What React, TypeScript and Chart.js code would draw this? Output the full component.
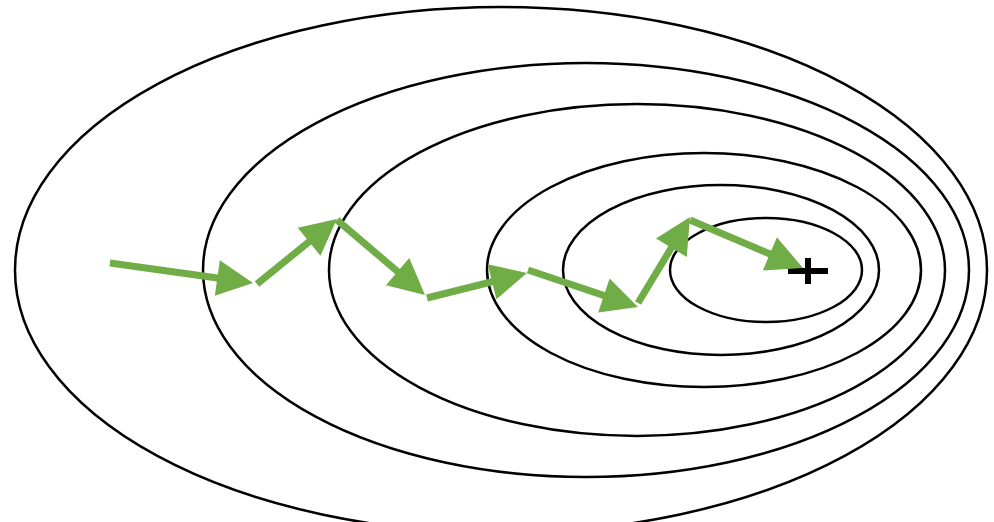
import React, { useEffect, useRef } from "react";
import { Chart, registerables } from "chart.js";

Chart.register(...registerables);

// Contour ellipses (data units = pixel-like coordinate space 0..994 x 0..522)
const ellipseCx = [501, 586, 637, 704, 721, 766];
const ellipseCy = [270, 270, 270, 270, 270, 270];
const ellipseRx = [486, 383, 308, 217, 158, 96];
const ellipseRy = [263, 207, 166, 117, 85, 52];

// Gradient-descent steps: start and tip of each arrow
const stepStartX = [110, 257, 337, 427, 528, 638, 690];
const stepStartY = [263, 284, 220, 298, 270, 303, 220];
const stepTipX = [253, 337, 425, 527, 638, 690, 803];
const stepTipY = [283, 219, 295, 273, 307, 217, 268];

// Minimum marker
const minimumX = [808];
const minimumY = [271];

const GREEN = "#70AD47";

const drawPlugin = {
  id: "contourDraw",
  beforeDatasetsDraw(chart: any) {
    const { ctx, scales } = chart;
    const xs = scales.x;
    const ys = scales.y;
    ctx.save();
    ctx.strokeStyle = "#000";
    ctx.lineWidth = 2.5;
    for (let i = 0; i < ellipseCx.length; i++) {
      const cx = xs.getPixelForValue(ellipseCx[i]);
      const cy = ys.getPixelForValue(ellipseCy[i]);
      const rx = Math.abs(xs.getPixelForValue(ellipseCx[i] + ellipseRx[i]) - cx);
      const ry = Math.abs(ys.getPixelForValue(ellipseCy[i] + ellipseRy[i]) - cy);
      ctx.beginPath();
      ctx.ellipse(cx, cy, rx, ry, 0, 0, Math.PI * 2);
      ctx.stroke();
    }
    // minimum "+"
    const pm = chart.getDatasetMeta(chart.data.datasets.length - 1).data[0];
    if (pm) {
      ctx.fillStyle = "#000";
      ctx.fillRect(pm.x - 20, pm.y - 3, 40, 6);
      ctx.fillRect(pm.x - 3, pm.y - 13, 6, 26);
    }
    ctx.restore();
  },
  afterDatasetsDraw(chart: any) {
    const { ctx } = chart;
    ctx.save();
    ctx.strokeStyle = GREEN;
    ctx.fillStyle = GREEN;
    ctx.lineWidth = 7;
    ctx.lineCap = "butt";
    const headLen = 36;
    const headHalf = 18;
    for (let d = 0; d < stepStartX.length; d++) {
      const meta = chart.getDatasetMeta(d);
      const a = meta.data[0];
      const b = meta.data[1];
      if (!a || !b) continue;
      const dx = b.x - a.x;
      const dy = b.y - a.y;
      const len = Math.hypot(dx, dy);
      const ux = dx / len;
      const uy = dy / len;
      const bx = b.x - ux * headLen;
      const by = b.y - uy * headLen;
      ctx.beginPath();
      ctx.moveTo(a.x, a.y);
      ctx.lineTo(bx + ux * 2, by + uy * 2);
      ctx.stroke();
      ctx.beginPath();
      ctx.moveTo(b.x, b.y);
      ctx.lineTo(bx - uy * headHalf, by + ux * headHalf);
      ctx.lineTo(bx + uy * headHalf, by - ux * headHalf);
      ctx.closePath();
      ctx.fill();
    }
    ctx.restore();
  },
};

export default function App() {
  const ref = useRef<HTMLCanvasElement | null>(null);
  useEffect(() => {
    if (!ref.current) return;
    const datasets: any[] = stepStartX.map((_, i) => ({
      label: "step " + (i + 1),
      data: [
        { x: stepStartX[i], y: stepStartY[i] },
        { x: stepTipX[i], y: stepTipY[i] },
      ],
      showLine: false,
      pointRadius: 0,
      pointHoverRadius: 0,
    }));
    datasets.push({
      label: "minimum",
      data: minimumX.map((x, i) => ({ x, y: minimumY[i] })),
      showLine: false,
      pointRadius: 0,
      pointHoverRadius: 0,
    });
    const chart = new Chart(ref.current, {
      type: "scatter",
      data: { datasets },
      options: {
        animation: false,
        responsive: true,
        maintainAspectRatio: false,
        layout: { padding: 0 },
        plugins: { legend: { display: false }, tooltip: { enabled: false } },
        events: [],
        scales: {
          x: { type: "linear", min: 0, max: 994, display: false },
          y: { type: "linear", min: 0, max: 522, reverse: true, display: false },
        },
      },
      plugins: [drawPlugin],
    });
    return () => chart.destroy();
  }, []);
  return (
    <div style={{ position: "absolute", left: 0, top: 0, width: 994, height: 522, background: "#fff" }}>
      <canvas ref={ref} />
    </div>
  );
}
